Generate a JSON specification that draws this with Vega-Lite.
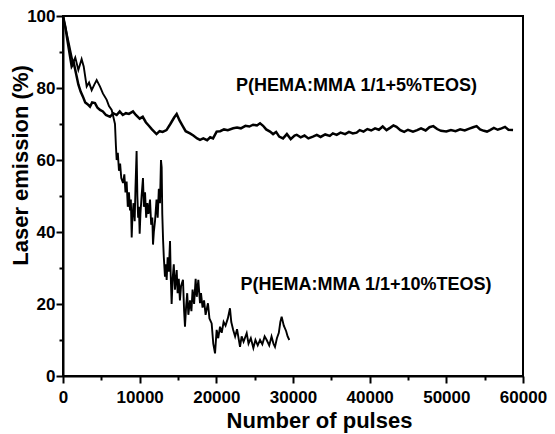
{
  "$schema": "https://vega.github.io/schema/vega-lite/v6.json",
  "autosize": "none",
  "width": 460,
  "height": 360,
  "padding": {"left": 63, "top": 16, "right": 32, "bottom": 58},
  "background": "white",
  "config": {"view": {"stroke": "black", "strokeWidth": 2}, "font": "Liberation Sans"},
  "datasets": {
    "curves": [
      {"s": "a", "p": 0, "e": 100}, {"s": "a", "p": 300, "e": 97}, {"s": "a", "p": 600, "e": 93}, {"s": "a", "p": 900, "e": 89},
      {"s": "a", "p": 1130, "e": 86}, {"s": "a", "p": 1400, "e": 87}, {"s": "a", "p": 1700, "e": 84}, {"s": "a", "p": 2000, "e": 81},
      {"s": "a", "p": 2300, "e": 79}, {"s": "a", "p": 2600, "e": 77.6}, {"s": "a", "p": 2900, "e": 76}, {"s": "a", "p": 3200, "e": 75.5},
      {"s": "a", "p": 3520, "e": 74.8}, {"s": "a", "p": 3800, "e": 76}, {"s": "a", "p": 4170, "e": 75.8}, {"s": "a", "p": 4500, "e": 74.5},
      {"s": "a", "p": 4830, "e": 73.9}, {"s": "a", "p": 5200, "e": 73.5}, {"s": "a", "p": 5600, "e": 72.5}, {"s": "a", "p": 6130, "e": 72},
      {"s": "a", "p": 6560, "e": 73}, {"s": "a", "p": 7000, "e": 72.5}, {"s": "a", "p": 7400, "e": 73.5}, {"s": "a", "p": 7800, "e": 72.5},
      {"s": "a", "p": 8200, "e": 73}, {"s": "a", "p": 8600, "e": 72.8}, {"s": "a", "p": 9130, "e": 73.5}, {"s": "a", "p": 9500, "e": 72.5},
      {"s": "a", "p": 10000, "e": 71.5}, {"s": "a", "p": 10400, "e": 72}, {"s": "a", "p": 10800, "e": 70.5}, {"s": "a", "p": 11200, "e": 69.5},
      {"s": "a", "p": 11600, "e": 68.5}, {"s": "a", "p": 12200, "e": 67.2}, {"s": "a", "p": 12600, "e": 68}, {"s": "a", "p": 13000, "e": 67.8},
      {"s": "a", "p": 13500, "e": 68.3}, {"s": "a", "p": 14000, "e": 70}, {"s": "a", "p": 14500, "e": 71.8}, {"s": "a", "p": 14830, "e": 72.8},
      {"s": "a", "p": 15200, "e": 71}, {"s": "a", "p": 15600, "e": 69.5}, {"s": "a", "p": 16000, "e": 68}, {"s": "a", "p": 16560, "e": 67.4},
      {"s": "a", "p": 17000, "e": 66.8}, {"s": "a", "p": 17500, "e": 66}, {"s": "a", "p": 17870, "e": 65.6}, {"s": "a", "p": 18300, "e": 66},
      {"s": "a", "p": 18800, "e": 65.5}, {"s": "a", "p": 19200, "e": 66.3}, {"s": "a", "p": 19570, "e": 66}, {"s": "a", "p": 20040, "e": 67.9},
      {"s": "a", "p": 20500, "e": 68}, {"s": "a", "p": 21000, "e": 68.5}, {"s": "a", "p": 21500, "e": 68.3}, {"s": "a", "p": 22200, "e": 68.8},
      {"s": "a", "p": 22700, "e": 69}, {"s": "a", "p": 23200, "e": 68.8}, {"s": "a", "p": 23800, "e": 69.5}, {"s": "a", "p": 24300, "e": 69.3},
      {"s": "a", "p": 24800, "e": 69.8}, {"s": "a", "p": 25300, "e": 69.6}, {"s": "a", "p": 25700, "e": 70.2}, {"s": "a", "p": 26100, "e": 69.5},
      {"s": "a", "p": 26500, "e": 68.5}, {"s": "a", "p": 27000, "e": 67.9}, {"s": "a", "p": 27400, "e": 67.2}, {"s": "a", "p": 27800, "e": 67.8},
      {"s": "a", "p": 28200, "e": 66.5}, {"s": "a", "p": 28700, "e": 66}, {"s": "a", "p": 29200, "e": 67.2}, {"s": "a", "p": 29700, "e": 65.8},
      {"s": "a", "p": 30200, "e": 66.8}, {"s": "a", "p": 30480, "e": 67}, {"s": "a", "p": 31000, "e": 66.3}, {"s": "a", "p": 31500, "e": 66.8},
      {"s": "a", "p": 32000, "e": 66}, {"s": "a", "p": 32600, "e": 66.5}, {"s": "a", "p": 33100, "e": 67}, {"s": "a", "p": 33600, "e": 66.4},
      {"s": "a", "p": 34200, "e": 67.1}, {"s": "a", "p": 34800, "e": 66.7}, {"s": "a", "p": 35200, "e": 67.4}, {"s": "a", "p": 35700, "e": 67},
      {"s": "a", "p": 36200, "e": 67.6}, {"s": "a", "p": 36800, "e": 67.2}, {"s": "a", "p": 37300, "e": 67.8}, {"s": "a", "p": 37800, "e": 67.4},
      {"s": "a", "p": 38300, "e": 67.6}, {"s": "a", "p": 38700, "e": 68.3}, {"s": "a", "p": 39200, "e": 67.9}, {"s": "a", "p": 39700, "e": 68.6},
      {"s": "a", "p": 40200, "e": 68.2}, {"s": "a", "p": 40700, "e": 68.8}, {"s": "a", "p": 41200, "e": 68.4}, {"s": "a", "p": 41700, "e": 69.3},
      {"s": "a", "p": 42200, "e": 68.3}, {"s": "a", "p": 42700, "e": 69}, {"s": "a", "p": 43100, "e": 69.6}, {"s": "a", "p": 43500, "e": 69.2},
      {"s": "a", "p": 44000, "e": 68.3}, {"s": "a", "p": 44500, "e": 67.8}, {"s": "a", "p": 45000, "e": 68.4}, {"s": "a", "p": 45650, "e": 67.9},
      {"s": "a", "p": 46200, "e": 68.3}, {"s": "a", "p": 46700, "e": 68.8}, {"s": "a", "p": 47300, "e": 68.2}, {"s": "a", "p": 47800, "e": 69.1},
      {"s": "a", "p": 48300, "e": 69.4}, {"s": "a", "p": 48800, "e": 68.6}, {"s": "a", "p": 49300, "e": 68.1}, {"s": "a", "p": 50000, "e": 67.9},
      {"s": "a", "p": 50600, "e": 68.3}, {"s": "a", "p": 51200, "e": 68}, {"s": "a", "p": 51800, "e": 68.5}, {"s": "a", "p": 52400, "e": 68.2},
      {"s": "a", "p": 53000, "e": 68.7}, {"s": "a", "p": 53500, "e": 69.1}, {"s": "a", "p": 53950, "e": 69.4}, {"s": "a", "p": 54400, "e": 68.5},
      {"s": "a", "p": 54900, "e": 68.1}, {"s": "a", "p": 55300, "e": 67.9}, {"s": "a", "p": 55700, "e": 68.3}, {"s": "a", "p": 56200, "e": 68.9},
      {"s": "a", "p": 56700, "e": 68.4}, {"s": "a", "p": 57200, "e": 68.8}, {"s": "a", "p": 57650, "e": 69.2}, {"s": "a", "p": 58100, "e": 68.4},
      {"s": "a", "p": 58700, "e": 68.3},
      {"s": "b", "p": 0, "e": 100}, {"s": "b", "p": 200, "e": 98}, {"s": "b", "p": 500, "e": 95}, {"s": "b", "p": 800, "e": 92},
      {"s": "b", "p": 1100, "e": 89}, {"s": "b", "p": 1300, "e": 87}, {"s": "b", "p": 1600, "e": 88.5}, {"s": "b", "p": 2000, "e": 85},
      {"s": "b", "p": 2430, "e": 88}, {"s": "b", "p": 2700, "e": 86}, {"s": "b", "p": 3090, "e": 80.4}, {"s": "b", "p": 3400, "e": 81.5},
      {"s": "b", "p": 3740, "e": 79.4}, {"s": "b", "p": 4100, "e": 81}, {"s": "b", "p": 4390, "e": 82.2}, {"s": "b", "p": 4830, "e": 80.4},
      {"s": "b", "p": 5200, "e": 78.5}, {"s": "b", "p": 5700, "e": 76.7}, {"s": "b", "p": 6000, "e": 75}, {"s": "b", "p": 6350, "e": 73.9},
      {"s": "b", "p": 6560, "e": 72}, {"s": "b", "p": 6780, "e": 70}, {"s": "b", "p": 6900, "e": 64}, {"s": "b", "p": 7000, "e": 60},
      {"s": "b", "p": 7150, "e": 62}, {"s": "b", "p": 7300, "e": 57}, {"s": "b", "p": 7450, "e": 59}, {"s": "b", "p": 7600, "e": 55},
      {"s": "b", "p": 7830, "e": 53.6}, {"s": "b", "p": 8000, "e": 56}, {"s": "b", "p": 8150, "e": 51}, {"s": "b", "p": 8300, "e": 54},
      {"s": "b", "p": 8450, "e": 47}, {"s": "b", "p": 8600, "e": 51}, {"s": "b", "p": 8740, "e": 46}, {"s": "b", "p": 8850, "e": 49},
      {"s": "b", "p": 8960, "e": 38.5}, {"s": "b", "p": 9050, "e": 44}, {"s": "b", "p": 9200, "e": 48}, {"s": "b", "p": 9350, "e": 43},
      {"s": "b", "p": 9450, "e": 52}, {"s": "b", "p": 9600, "e": 62.5}, {"s": "b", "p": 9700, "e": 50}, {"s": "b", "p": 9800, "e": 44},
      {"s": "b", "p": 9900, "e": 47}, {"s": "b", "p": 10000, "e": 39.5}, {"s": "b", "p": 10100, "e": 45}, {"s": "b", "p": 10250, "e": 50},
      {"s": "b", "p": 10430, "e": 55}, {"s": "b", "p": 10550, "e": 47}, {"s": "b", "p": 10700, "e": 51}, {"s": "b", "p": 10850, "e": 44},
      {"s": "b", "p": 11000, "e": 48}, {"s": "b", "p": 11150, "e": 45}, {"s": "b", "p": 11350, "e": 49}, {"s": "b", "p": 11500, "e": 42},
      {"s": "b", "p": 11650, "e": 44}, {"s": "b", "p": 11740, "e": 36.5}, {"s": "b", "p": 11850, "e": 40}, {"s": "b", "p": 12000, "e": 43},
      {"s": "b", "p": 12200, "e": 49}, {"s": "b", "p": 12350, "e": 44}, {"s": "b", "p": 12500, "e": 52}, {"s": "b", "p": 12650, "e": 48},
      {"s": "b", "p": 12780, "e": 60}, {"s": "b", "p": 12870, "e": 58}, {"s": "b", "p": 12950, "e": 45}, {"s": "b", "p": 13050, "e": 38},
      {"s": "b", "p": 13150, "e": 33}, {"s": "b", "p": 13300, "e": 27.6}, {"s": "b", "p": 13400, "e": 31}, {"s": "b", "p": 13520, "e": 26.7},
      {"s": "b", "p": 13650, "e": 33}, {"s": "b", "p": 13800, "e": 29}, {"s": "b", "p": 13960, "e": 37.5}, {"s": "b", "p": 14050, "e": 28},
      {"s": "b", "p": 14170, "e": 20}, {"s": "b", "p": 14300, "e": 27}, {"s": "b", "p": 14450, "e": 31}, {"s": "b", "p": 14600, "e": 24},
      {"s": "b", "p": 14830, "e": 29.4}, {"s": "b", "p": 14950, "e": 23}, {"s": "b", "p": 15100, "e": 27}, {"s": "b", "p": 15250, "e": 21},
      {"s": "b", "p": 15400, "e": 25}, {"s": "b", "p": 15650, "e": 26.7}, {"s": "b", "p": 15800, "e": 18}, {"s": "b", "p": 15910, "e": 13.7},
      {"s": "b", "p": 16050, "e": 19}, {"s": "b", "p": 16200, "e": 23}, {"s": "b", "p": 16350, "e": 17}, {"s": "b", "p": 16560, "e": 21},
      {"s": "b", "p": 16750, "e": 18}, {"s": "b", "p": 16900, "e": 24}, {"s": "b", "p": 17100, "e": 20}, {"s": "b", "p": 17300, "e": 27},
      {"s": "b", "p": 17450, "e": 22}, {"s": "b", "p": 17650, "e": 26.7}, {"s": "b", "p": 17870, "e": 20.2}, {"s": "b", "p": 18000, "e": 23},
      {"s": "b", "p": 18200, "e": 19}, {"s": "b", "p": 18400, "e": 21}, {"s": "b", "p": 18600, "e": 17}, {"s": "b", "p": 18910, "e": 20.2},
      {"s": "b", "p": 19100, "e": 16}, {"s": "b", "p": 19390, "e": 14.6}, {"s": "b", "p": 19600, "e": 9}, {"s": "b", "p": 19830, "e": 6.3},
      {"s": "b", "p": 20040, "e": 12.8}, {"s": "b", "p": 20250, "e": 10.5}, {"s": "b", "p": 20480, "e": 13.7}, {"s": "b", "p": 20700, "e": 12},
      {"s": "b", "p": 20950, "e": 15}, {"s": "b", "p": 21200, "e": 14}, {"s": "b", "p": 21500, "e": 16}, {"s": "b", "p": 21780, "e": 18.8},
      {"s": "b", "p": 21950, "e": 15}, {"s": "b", "p": 22200, "e": 12.8}, {"s": "b", "p": 22450, "e": 11}, {"s": "b", "p": 22700, "e": 13},
      {"s": "b", "p": 23090, "e": 8.1}, {"s": "b", "p": 23300, "e": 11}, {"s": "b", "p": 23550, "e": 9.5}, {"s": "b", "p": 23960, "e": 11.9},
      {"s": "b", "p": 24200, "e": 9}, {"s": "b", "p": 24500, "e": 10.5}, {"s": "b", "p": 24830, "e": 7.8}, {"s": "b", "p": 25100, "e": 10},
      {"s": "b", "p": 25400, "e": 8.5}, {"s": "b", "p": 25700, "e": 10}, {"s": "b", "p": 26000, "e": 8.8}, {"s": "b", "p": 26300, "e": 11},
      {"s": "b", "p": 26570, "e": 10}, {"s": "b", "p": 26900, "e": 8.5}, {"s": "b", "p": 27200, "e": 11}, {"s": "b", "p": 27450, "e": 9},
      {"s": "b", "p": 27650, "e": 8.1}, {"s": "b", "p": 27900, "e": 10.5}, {"s": "b", "p": 28150, "e": 12}, {"s": "b", "p": 28350, "e": 15},
      {"s": "b", "p": 28520, "e": 16.5}, {"s": "b", "p": 28800, "e": 14}, {"s": "b", "p": 29100, "e": 12.5}, {"s": "b", "p": 29300, "e": 11},
      {"s": "b", "p": 29520, "e": 10}
    ],
    "labels": [
      {"p": 38283, "e": 80.5, "label": "P(HEMA:MMA 1/1+5%TEOS)"},
      {"p": 39522, "e": 25.3, "label": "P(HEMA:MMA 1/1+10%TEOS)"}
    ]
  },
  "resolve": {"axis": {"x": "independent", "y": "independent"}},
  "layer": [
    {
      "data": {"name": "curves"},
      "transform": [{"filter": "datum.s === 'a'"}],
      "mark": {"type": "line", "color": "black", "strokeWidth": 2.5},
      "encoding": {
        "x": {
          "field": "p", "type": "quantitative",
          "scale": {"domain": [0, 60000], "nice": false, "zero": false},
          "axis": {
            "orient": "bottom",
            "title": "Number of pulses",
            "values": [0, 10000, 20000, 30000, 40000, 50000, 60000],
            "format": "d", "grid": false, "ticks": true,
            "domainColor": "black", "domainWidth": 2,
            "tickColor": "black", "tickWidth": 2, "tickSize": 7,
            "labelFont": "Liberation Sans", "labelFontSize": 17, "labelFontWeight": "bold", "labelColor": "black",
            "labelPadding": 6, "labelDx": 6, "labelOverlap": false, "labelFlush": false,
            "titleFont": "Liberation Sans", "titleFontSize": 22, "titleFontWeight": "bold", "titleColor": "black",
            "titleX": 256, "titleY": 51, "titleBaseline": "alphabetic", "titleAlign": "center"
          }
        },
        "y": {
          "field": "e", "type": "quantitative",
          "scale": {"domain": [0, 100], "nice": false},
          "axis": {
            "orient": "left",
            "title": "Laser emission (%)",
            "values": [0, 20, 40, 60, 80, 100],
            "grid": false, "ticks": true,
            "domainColor": "black", "domainWidth": 2,
            "tickColor": "black", "tickWidth": 2, "tickSize": 7,
            "labelFont": "Liberation Sans", "labelFontSize": 17, "labelFontWeight": "bold", "labelColor": "black",
            "labelPadding": 1, "labelOverlap": false, "labelFlush": false,
            "titleFont": "Liberation Sans", "titleFontSize": 22, "titleFontWeight": "bold", "titleColor": "black",
            "titleX": -36, "titleY": 149, "titleBaseline": "alphabetic", "titleAlign": "center", "titleAngle": -90
          }
        }
      }
    },
    {
      "data": {"name": "curves"},
      "transform": [{"filter": "datum.s === 'b'"}],
      "mark": {"type": "line", "color": "black", "strokeWidth": 1.9},
      "encoding": {
        "x": {"field": "p", "type": "quantitative", "axis": {"orient": "bottom", "values": [5000, 15000, 25000, 35000, 45000, 55000], "labels": false, "title": null, "domain": false, "grid": false, "ticks": true, "tickColor": "black", "tickWidth": 2, "tickSize": 4}},
        "y": {"field": "e", "type": "quantitative", "axis": {"orient": "left", "values": [10, 30, 50, 70, 90], "labels": false, "title": null, "domain": false, "grid": false, "ticks": true, "tickColor": "black", "tickWidth": 2, "tickSize": 4}}
      }
    },
    {
      "data": {"name": "labels"},
      "mark": {"type": "text", "font": "Liberation Sans", "fontSize": 18, "fontWeight": "bold", "color": "black", "align": "center", "baseline": "middle"},
      "encoding": {
        "x": {"field": "p", "type": "quantitative", "axis": null},
        "y": {"field": "e", "type": "quantitative", "axis": null},
        "text": {"field": "label"}
      }
    }
  ]
}
